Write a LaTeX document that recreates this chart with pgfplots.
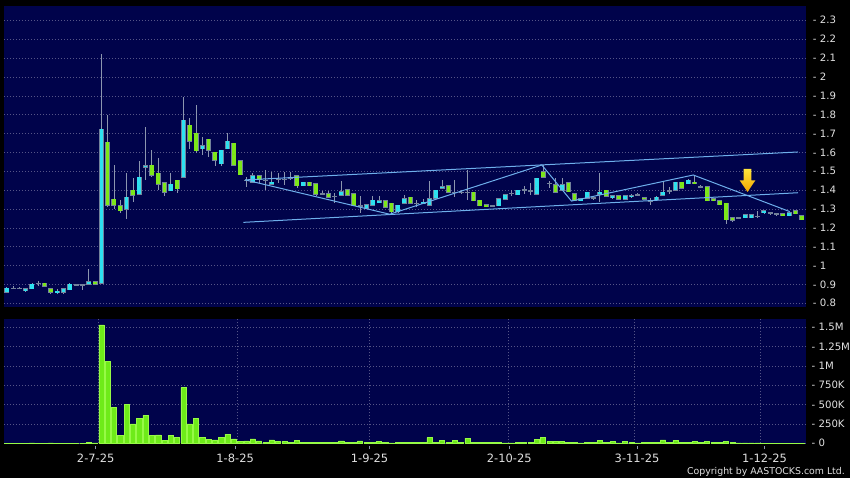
\documentclass[border=0pt]{standalone}
\usepackage{fontspec}
\setmainfont{DejaVu Sans}
\usepackage{pgfplots}
\usepackage{pgfplotstable}
\pgfplotsset{compat=1.18}
\definecolor{navy}{RGB}{0,3,75}
\definecolor{gridc}{RGB}{85,85,135}
\definecolor{upc}{RGB}{45,225,240}
\definecolor{dnc}{RGB}{125,232,25}
\definecolor{wickc}{RGB}{140,150,175}
\definecolor{bordc}{RGB}{115,130,155}
\definecolor{trendc}{RGB}{110,175,235}
\definecolor{labelc}{RGB}{225,225,225}
\definecolor{volc}{RGB}{110,235,25}
\definecolor{volb}{RGB}{150,250,70}
\definecolor{arrtop}{RGB}{255,228,60}
\definecolor{arrbot}{RGB}{240,165,0}
\pgfplotstableread{
i o h l c v
0 0.86 0.885 0.855 0.88 0.003
1 0.88 0.893 0.878 0.88 0.003
2 0.88 0.885 0.878 0.88 0.003
3 0.868 0.88 0.86 0.876 0.003
4 0.878 0.905 0.875 0.90 0.004
5 0.905 0.92 0.89 0.905 0.003
6 0.905 0.91 0.885 0.89 0.003
7 0.877 0.88 0.85 0.859 0.004
8 0.86 0.875 0.85 0.864 0.003
9 0.858 0.88 0.85 0.877 0.003
10 0.872 0.905 0.87 0.90 0.003
11 0.897 0.90 0.895 0.897 0.003
12 0.898 0.90 0.87 0.898 0.003
13 0.90 0.982 0.90 0.915 0.015
14 0.915 0.915 0.90 0.90 0.004
15 0.906 2.122 0.90 1.722 1.53
16 1.653 1.80 1.31 1.321 1.055
17 1.351 1.533 1.298 1.321 0.46
18 1.318 1.35 1.277 1.29 0.098
19 1.298 1.489 1.249 1.362 0.504
20 1.399 1.463 1.339 1.372 0.25
21 1.378 1.553 1.372 1.468 0.318
22 1.521 1.735 1.452 1.53 0.362
23 1.531 1.613 1.47 1.478 0.107
24 1.489 1.57 1.401 1.431 0.11
25 1.44 1.44 1.369 1.388 0.04
26 1.397 1.491 1.397 1.431 0.10
27 1.452 1.452 1.387 1.408 0.073
28 1.468 1.895 1.468 1.77 0.72
29 1.743 1.781 1.62 1.659 0.25
30 1.701 1.851 1.599 1.609 0.318
31 1.62 1.683 1.588 1.635 0.08
32 1.669 1.669 1.577 1.611 0.05
33 1.60 1.60 1.53 1.558 0.044
34 1.54 1.611 1.53 1.611 0.08
35 1.62 1.701 1.62 1.659 0.118
36 1.647 1.647 1.533 1.533 0.058
37 1.556 1.556 1.478 1.481 0.02
38 1.451 1.472 1.419 1.451 0.03
39 1.442 1.489 1.437 1.477 0.058
40 1.477 1.477 1.44 1.454 0.03
41 1.451 1.507 1.402 1.451 0.01
42 1.432 1.498 1.428 1.442 0.045
43 1.458 1.489 1.437 1.458 0.02
44 1.458 1.498 1.428 1.458 0.02
45 1.463 1.498 1.454 1.463 0.01
46 1.477 1.477 1.41 1.423 0.033
47 1.423 1.442 1.42 1.442 0.01
48 1.442 1.442 1.423 1.423 0.012
49 1.432 1.432 1.37 1.379 0.015
50 1.379 1.393 1.372 1.379 0.012
51 1.379 1.393 1.361 1.361 0.01
52 1.367 1.384 1.332 1.367 0.012
53 1.374 1.446 1.374 1.391 0.03
54 1.402 1.402 1.374 1.374 0.01
55 1.379 1.379 1.318 1.318 0.008
56 1.318 1.367 1.279 1.318 0.03
57 1.305 1.323 1.30 1.323 0.008
58 1.321 1.367 1.32 1.346 0.008
59 1.336 1.367 1.33 1.343 0.02
60 1.343 1.343 1.309 1.309 0.008
61 1.331 1.331 1.274 1.286 0.005
62 1.286 1.319 1.28 1.319 0.008
63 1.331 1.374 1.331 1.354 0.008
64 1.363 1.363 1.331 1.331 0.01
65 1.331 1.35 1.31 1.331 0.008
66 1.328 1.355 1.325 1.335 0.008
67 1.321 1.446 1.32 1.353 0.072
68 1.358 1.40 1.358 1.40 0.015
69 1.409 1.454 1.405 1.419 0.033
70 1.423 1.423 1.388 1.388 0.012
71 1.388 1.454 1.361 1.388 0.036
72 1.388 1.40 1.38 1.388 0.012
73 1.388 1.509 1.349 1.388 0.068
74 1.389 1.389 1.344 1.344 0.015
75 1.346 1.346 1.318 1.318 0.01
76 1.321 1.326 1.31 1.314 0.008
77 1.316 1.32 1.31 1.316 0.008
78 1.318 1.353 1.318 1.353 0.008
79 1.353 1.374 1.353 1.374 0.005
80 1.384 1.40 1.37 1.384 0.005
81 1.375 1.40 1.375 1.40 0.008
82 1.402 1.423 1.379 1.402 0.008
83 1.396 1.437 1.375 1.396 0.012
84 1.379 1.463 1.379 1.463 0.047
85 1.498 1.533 1.467 1.467 0.073
86 1.437 1.446 1.411 1.437 0.02
87 1.428 1.463 1.389 1.389 0.025
88 1.40 1.463 1.40 1.428 0.025
89 1.44 1.44 1.391 1.391 0.01
90 1.379 1.379 1.344 1.344 0.015
91 1.344 1.36 1.34 1.353 0.005
92 1.356 1.388 1.356 1.388 0.008
93 1.358 1.37 1.35 1.358 0.01
94 1.379 1.49 1.335 1.389 0.036
95 1.398 1.40 1.367 1.367 0.008
96 1.36 1.375 1.355 1.37 0.02
97 1.37 1.375 1.353 1.353 0.005
98 1.353 1.375 1.35 1.37 0.025
99 1.365 1.38 1.36 1.37 0.008
100 1.375 1.385 1.37 1.375 0.005
101 1.36 1.365 1.345 1.353 0.01
102 1.344 1.358 1.323 1.344 0.008
103 1.349 1.37 1.345 1.361 0.012
104 1.374 1.446 1.37 1.389 0.043
105 1.396 1.414 1.379 1.396 0.01
106 1.40 1.445 1.40 1.442 0.033
107 1.442 1.442 1.41 1.41 0.01
108 1.433 1.46 1.43 1.451 0.012
109 1.442 1.48 1.433 1.433 0.02
110 1.419 1.425 1.41 1.419 0.008
111 1.419 1.419 1.344 1.344 0.02
112 1.353 1.355 1.34 1.344 0.008
113 1.344 1.344 1.323 1.323 0.01
114 1.331 1.331 1.218 1.244 0.02
115 1.253 1.26 1.23 1.24 0.008
116 1.253 1.258 1.248 1.253 0.005
117 1.253 1.275 1.253 1.27 0.005
118 1.253 1.275 1.253 1.27 0.004
119 1.261 1.291 1.253 1.261 0.004
120 1.279 1.296 1.275 1.291 0.003
121 1.279 1.285 1.27 1.279 0.003
122 1.274 1.28 1.265 1.274 0.003
123 1.274 1.276 1.265 1.265 0.003
124 1.265 1.283 1.262 1.279 0.003
125 1.289 1.29 1.274 1.274 0.003
126 1.263 1.263 1.244 1.244 0.002
}\candles
\pgfplotsset{
  chartbase/.style={
    scale only axis, width=802bp,
    xmin=-0.43, xmax=126.67,
    axis background/.style={fill=navy},
    axis line style={draw=none},
    grid style={draw=gridc, dash pattern=on 1.2bp off 1.8bp, line width=0.5bp},
    minor grid style={draw=gridc, dash pattern=on 1.2bp off 1.8bp, line width=0.5bp},
    minor xtick={14.5,36.5,57.5,79.5,99.5,119.4},
    xminorgrids, ymajorgrids, xmajorgrids=false,
    minor tick length=0pt,
    yticklabel pos=right,
    ytick style={draw=none},
    yticklabel style={anchor=west, inner sep=0pt, xshift=2.5bp, font=\fontsize{10.2}{12}\selectfont, text=labelc},
    tick align=outside,
  },
  errbase/.style={only marks, mark=*, mark size=0pt, mark options={draw=none, fill=none},
    error bars/.cd, y dir=both, y explicit, error mark=none},
}
\begin{document}
\begin{tikzpicture}[x=1bp,y=1bp]
\fill[black] (0,0) rectangle (850,478);
% price panel
\begin{axis}[chartbase, at={(4bp,171bp)}, anchor=south west, height=301bp,
  ymin=0.7804, ymax=2.3758,
  ytick={0.8,0.9,1,1.1,1.2,1.3,1.4,1.5,1.6,1.7,1.8,1.9,2,2.1,2.2,2.3},
  yticklabels={- 0.8,- 0.9,- 1,- 1.1,- 1.2,- 1.3,- 1.4,- 1.5,- 1.6,- 1.7,- 1.8,- 1.9,- 2,- 2.1,- 2.2,- 2.3},
  xtick=\empty,
]
\addplot[errbase, error bar style={wickc, line width=0.8bp}]
  table[x=i, y expr={(\thisrow{h}+\thisrow{l})/2}, y error expr={(\thisrow{h}-\thisrow{l})/2}] {\candles};
\addplot[errbase, error bar style={bordc, line width=5bp}]
  table[x=i, y expr={(\thisrow{o}+\thisrow{c})/2}, y error expr={abs(\thisrow{c}-\thisrow{o})/2+0.003}] {\candles};
\addplot[errbase, error bar style={upc, line width=3.6bp}]
  table[x=i, y expr={\thisrow{c}>\thisrow{o} ? (\thisrow{o}+\thisrow{c})/2 : nan}, y error expr={abs(\thisrow{c}-\thisrow{o})/2}] {\candles};
\addplot[errbase, error bar style={dnc, line width=3.6bp}]
  table[x=i, y expr={\thisrow{c}<\thisrow{o} ? (\thisrow{o}+\thisrow{c})/2 : nan}, y error expr={abs(\thisrow{c}-\thisrow{o})/2}] {\candles};
% trend lines
\addplot[trendc, line width=1bp, mark=none] coordinates {(37.8,1.454) (125.4,1.602)};
\addplot[trendc, line width=1bp, mark=none] coordinates {(37.5,1.229) (125.4,1.386)};
\addplot[trendc, line width=1bp, mark=none] coordinates {(37.8,1.454) (60.7,1.272) (84.8,1.533) (89.5,1.342) (108.8,1.48) (124.1,1.286)};
% arrow
\addplot[draw=none, top color=arrtop, bottom color=arrbot, mark=none] coordinates {(116.8,1.512) (118.0,1.512) (118.0,1.452) (118.65,1.452) (117.4,1.390) (116.15,1.452) (116.8,1.452)} -- cycle;
\end{axis}
% volume panel
\begin{axis}[chartbase, at={(4bp,34.7bp)}, anchor=south west, height=124.3bp,
  ymin=0, ymax=1.607,
  ytick={0,0.25,0.5,0.75,1,1.25,1.5},
  yticklabels={- 0,- 250K,- 500K,- 750K,- 1M,- 1.25M,- 1.5M},
  xtick={14.1,36.2,57.5,79.65,99.9,120.1},
  xticklabels={2-7-25,1-8-25,1-9-25,2-10-25,3-11-25,1-12-25},
  xtick pos=bottom,
  major tick length=3bp,
  xtick style={draw=wickc, line width=0.6bp, yshift=-3bp},
  xticklabel style={font=\fontsize{11.5}{13}\selectfont, text=labelc, inner sep=0pt, yshift=-8bp},
]
\addplot[ybar, bar width=5.2bp, fill=volc, draw=volb, line width=0.5bp] table[x=i, y=v] {\candles};
\end{axis}
\node[anchor=base east, text=labelc, font=\fontsize{9.4}{11}\selectfont, inner sep=0pt] at (845bp,3bp) {Copyright by AASTOCKS.com Ltd.};
\pgfresetboundingbox
\useasboundingbox (0,0) rectangle (850,478);
\end{tikzpicture}
\end{document}
